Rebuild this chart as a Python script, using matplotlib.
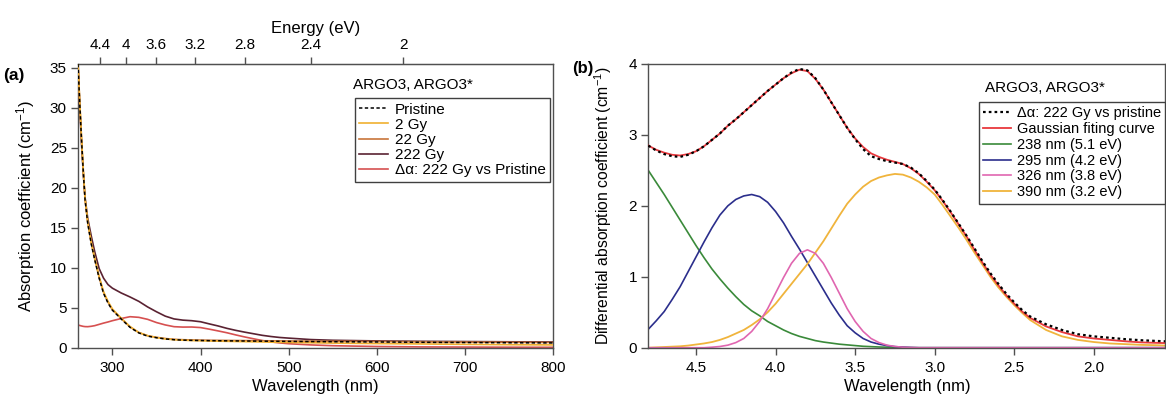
import matplotlib
matplotlib.use("Agg")
import matplotlib.pyplot as plt
from matplotlib.ticker import FormatStrFormatter

plt.rcParams['font.family'] = ['Liberation Sans', 'DejaVu Sans']
plt.rcParams['mathtext.fontset'] = 'custom'
plt.rcParams['mathtext.rm'] = 'Liberation Sans'
plt.rcParams['mathtext.default'] = 'regular'

# ---- panel (a): absorption vs wavelength ----
wl = [261, 263, 265, 267, 269, 272, 276, 280, 285, 290, 295, 300, 310, 320, 330,
      340, 350, 360, 370, 380, 390, 400, 410, 420, 430, 440, 450, 460, 470, 480,
      490, 500, 525, 550, 600, 650, 700, 750, 800]
pristine = [35.5, 30.5, 26.0, 22.0, 18.5, 15.6, 13.0, 11.0, 8.7, 6.8, 5.6, 4.7, 3.6,
            2.55, 1.85, 1.45, 1.25, 1.1, 1.0, 0.95, 0.92, 0.9, 0.88, 0.87, 0.86, 0.85,
            0.84, 0.83, 0.82, 0.81, 0.8, 0.79, 0.77, 0.75, 0.72, 0.68, 0.65, 0.62, 0.6]
gy2 = [35.5, 30.7, 26.2, 22.2, 18.7, 15.8, 13.2, 11.2, 8.9, 7.0, 5.8, 4.85, 3.7,
       2.65, 1.9, 1.5, 1.27, 1.1, 1.0, 0.94, 0.9, 0.87, 0.84, 0.82, 0.8, 0.78,
       0.76, 0.74, 0.72, 0.7, 0.68, 0.66, 0.62, 0.58, 0.52, 0.47, 0.42, 0.38, 0.35]
gy22 = [35.5, 30.6, 26.1, 22.1, 18.6, 15.7, 13.1, 11.1, 8.8, 6.9, 5.7, 4.75, 3.65,
        2.6, 1.9, 1.5, 1.3, 1.15, 1.05, 1.0, 0.97, 0.95, 0.93, 0.92, 0.91, 0.9,
        0.89, 0.88, 0.87, 0.86, 0.85, 0.84, 0.82, 0.8, 0.77, 0.74, 0.71, 0.68, 0.65]
gy222 = [35.5, 30.0, 25.5, 21.8, 18.8, 16.2, 14.0, 12.0, 9.9, 8.7, 7.9, 7.45, 6.85,
         6.35, 5.8, 5.1, 4.5, 3.95, 3.6, 3.45, 3.38, 3.25, 2.98, 2.72, 2.42, 2.17,
         1.95, 1.75, 1.55, 1.4, 1.28, 1.2, 1.02, 0.93, 0.85, 0.8, 0.77, 0.74, 0.72]
delta_a = [2.84, 2.78, 2.72, 2.67, 2.64, 2.63, 2.68, 2.76, 2.92, 3.08, 3.22, 3.38,
           3.65, 3.88, 3.8, 3.55, 3.15, 2.85, 2.63, 2.58, 2.59, 2.52, 2.32, 2.1,
           1.87, 1.6, 1.35, 1.12, 0.9, 0.72, 0.6, 0.5, 0.35, 0.25, 0.15, 0.1, 0.08,
           0.06, 0.05]

energy_ticks = [4.4, 4.0, 3.6, 3.2, 2.8, 2.4, 2.0]
HC = 1260  # eV*nm, as the top axis of the original is drawn

# ---- panel (b): differential absorption vs energy ----
ev = [4.8, 4.75, 4.7, 4.65, 4.6, 4.55, 4.5, 4.45, 4.4, 4.35,
      4.3, 4.25, 4.2, 4.15, 4.1, 4.05, 4.0, 3.95, 3.9, 3.85,
      3.8, 3.75, 3.7, 3.65, 3.6, 3.55, 3.5, 3.45, 3.4, 3.35,
      3.3, 3.25, 3.2, 3.15, 3.1, 3.05, 3.0, 2.95, 2.9, 2.85,
      2.8, 2.75, 2.7, 2.65, 2.6, 2.55, 2.5, 2.45, 2.4,
      2.3, 2.2, 2.1, 2.0, 1.9, 1.8, 1.7, 1.6, 1.55]
fit_b = [2.85, 2.79, 2.75, 2.72, 2.71, 2.73, 2.77, 2.84, 2.93, 3.02,
         3.13, 3.22, 3.32, 3.42, 3.52, 3.62, 3.71, 3.80, 3.87, 3.92,
         3.90, 3.79, 3.64, 3.46, 3.28, 3.10, 2.95, 2.83, 2.74, 2.69,
         2.65, 2.62, 2.59, 2.53, 2.45, 2.34, 2.22, 2.07, 1.91, 1.74,
         1.57, 1.38, 1.20, 1.03, 0.88, 0.74, 0.62, 0.51, 0.42,
         0.30, 0.22, 0.16, 0.13, 0.11, 0.09, 0.075, 0.068, 0.065]
delta_b = [2.85, 2.78, 2.73, 2.70, 2.69, 2.72, 2.77, 2.84, 2.93, 3.02,
           3.13, 3.22, 3.32, 3.42, 3.52, 3.62, 3.71, 3.80, 3.88, 3.93,
           3.91, 3.80, 3.64, 3.46, 3.28, 3.10, 2.94, 2.80, 2.70, 2.66,
           2.63, 2.61, 2.59, 2.54, 2.46, 2.35, 2.23, 2.08, 1.92, 1.75,
           1.58, 1.40, 1.22, 1.05, 0.90, 0.76, 0.64, 0.53, 0.44,
           0.33, 0.25, 0.19, 0.16, 0.14, 0.12, 0.105, 0.095, 0.09]
g238 = [2.50, 2.33, 2.16, 1.98, 1.80, 1.62, 1.44, 1.27, 1.11, 0.97,
        0.84, 0.72, 0.61, 0.52, 0.45, 0.37, 0.31, 0.25, 0.20, 0.16,
        0.13, 0.10, 0.08, 0.065, 0.05, 0.04, 0.03, 0.02, 0.015, 0.01,
        0.007, 0.005, 0.003, 0.001, 0, 0, 0, 0, 0, 0,
        0, 0, 0, 0, 0, 0, 0, 0, 0,
        0, 0, 0, 0, 0, 0, 0, 0, 0]
g295 = [0.26, 0.38, 0.51, 0.68, 0.86, 1.07, 1.28, 1.49, 1.69, 1.87,
        2.00, 2.09, 2.14, 2.16, 2.13, 2.05, 1.92, 1.76, 1.57, 1.39,
        1.20, 1.01, 0.82, 0.63, 0.46, 0.31, 0.21, 0.13, 0.08, 0.05,
        0.03, 0.015, 0.008, 0.003, 0, 0, 0, 0, 0, 0,
        0, 0, 0, 0, 0, 0, 0, 0, 0,
        0, 0, 0, 0, 0, 0, 0, 0, 0]
g326 = [0, 0, 0, 0, 0, 0, 0, 0, 0.007, 0.017,
        0.036, 0.072, 0.13, 0.23, 0.37, 0.55, 0.77, 0.99, 1.19, 1.33,
        1.38, 1.33, 1.19, 0.99, 0.77, 0.55, 0.37, 0.23, 0.13, 0.072,
        0.036, 0.017, 0.007, 0.003, 0, 0, 0, 0, 0, 0,
        0, 0, 0, 0, 0, 0, 0, 0, 0,
        0, 0, 0, 0, 0, 0, 0, 0, 0]
g390 = [0.0, 0.005, 0.01, 0.015, 0.02, 0.03, 0.045, 0.06, 0.08, 0.11,
        0.15, 0.20, 0.25, 0.32, 0.40, 0.50, 0.62, 0.76, 0.90, 1.04,
        1.18, 1.34, 1.50, 1.68, 1.86, 2.03, 2.16, 2.27, 2.35, 2.40,
        2.43, 2.45, 2.44, 2.40, 2.34, 2.26, 2.16, 2.01, 1.85, 1.69,
        1.52, 1.34, 1.17, 1.00, 0.85, 0.72, 0.60, 0.49, 0.39,
        0.25, 0.16, 0.11, 0.08, 0.06, 0.05, 0.04, 0.035, 0.03]

spine_c = '#505050'
fig = plt.figure(figsize=(11.66, 4.03), dpi=100)
ax1 = fig.add_axes([0.0669, 0.1372, 0.4074, 0.704])
ax2 = fig.add_axes([0.556, 0.1372, 0.4435, 0.704])

# panel (a)
ax1.plot(wl, delta_a, color='#D65050', lw=1.2, label='Δα: 222 Gy vs Pristine', zorder=2)
ax1.plot(wl, gy222, color='#5A2232', lw=1.2, label='222 Gy', zorder=3)
ax1.plot(wl, gy22, color='#C8743A', lw=1.2, label='22 Gy', zorder=3)
ax1.plot(wl, gy2, color='#F0B030', lw=1.2, label='2 Gy', zorder=3)
ax1.plot(wl, pristine, color='black', lw=1.1, ls=(0, (2.2, 1.6)), label='Pristine', zorder=4)
ax1.set_xlim(261, 800)
ax1.set_ylim(0, 35.5)
ax1.set_xticks([300, 400, 500, 600, 700, 800])
ax1.set_yticks([0, 5, 10, 15, 20, 25, 30, 35])
ax1.set_xlabel('Wavelength (nm)', fontsize=12, labelpad=3)
ax1.set_ylabel('Absorption coefficient (cm$^{-1}$)', fontsize=12)
ax1.yaxis.set_label_coords(-0.086, 0.5)

top = ax1.secondary_xaxis('top', functions=(lambda x: HC / x, lambda e: HC / e))
top.set_xticks(energy_ticks)
top.xaxis.set_major_formatter(FormatStrFormatter('%g'))
top.set_xlabel('Energy (eV)', fontsize=12, labelpad=4)
top.tick_params(direction='out', length=5, width=1, color=spine_c, labelsize=11, pad=3.5)
top.spines['top'].set_color(spine_c)

h, l = ax1.get_legend_handles_labels()
order = [4, 3, 2, 1, 0]
leg1 = ax1.legend([h[i] for i in order], [l[i] for i in order],
                  loc='upper right', bbox_to_anchor=(0.4717, 0.7568),
                  bbox_transform=fig.transFigure, fontsize=11, frameon=True,
                  fancybox=False, edgecolor='#404040', framealpha=1,
                  handlelength=1.9, handletextpad=0.4, labelspacing=0.08,
                  borderpad=0.3, borderaxespad=0)
leg1.get_frame().set_linewidth(1.0)
fig.text(0.3025, 0.789, 'ARGO3, ARGO3*', fontsize=11, ha='left', va='center')

# panel (b)
ax2.plot(ev, fit_b, color='#E8383D', lw=1.3, label='Gaussian fiting curve', zorder=3)
ax2.plot(ev, delta_b, color='black', lw=1.6, ls=(0, (1.2, 1.4)),
         label='Δα: 222 Gy vs pristine', zorder=4)
ax2.plot(ev, g238, color='#3A8A3A', lw=1.2, label='238 nm (5.1 eV)', zorder=2)
ax2.plot(ev, g295, color='#2B2E8C', lw=1.2, label='295 nm (4.2 eV)', zorder=2)
ax2.plot(ev, g390, color='#F0B43C', lw=1.3, label='390 nm (3.2 eV)', zorder=2)
ax2.plot(ev, g326, color='#E066B0', lw=1.2, label='326 nm (3.8 eV)', zorder=2)
ax2.set_xlim(4.8, 1.55)
ax2.set_ylim(0, 4)
ax2.set_xticks([4.5, 4.0, 3.5, 3.0, 2.5, 2.0])
ax2.xaxis.set_major_formatter(FormatStrFormatter('%.1f'))
ax2.set_yticks([0, 1, 2, 3, 4])
ax2.set_xlabel('Wavelength (nm)', fontsize=12, labelpad=3)
ax2.set_ylabel('Differential absorption coefficient (cm$^{-1}$)', fontsize=11.3)
ax2.yaxis.set_label_coords(-0.067, 0.5)

h, l = ax2.get_legend_handles_labels()
order = [1, 0, 2, 3, 5, 4]
leg2 = ax2.legend([h[i] for i in order], [l[i] for i in order],
                  loc='upper right', bbox_to_anchor=(0.9995, 0.7468),
                  bbox_transform=fig.transFigure, fontsize=10.5, frameon=True,
                  fancybox=False, edgecolor='#404040', framealpha=1,
                  handlelength=1.9, handletextpad=0.4, labelspacing=0.12,
                  borderpad=0.3, borderaxespad=0)
leg2.get_frame().set_linewidth(1.0)
fig.text(0.8445, 0.782, 'ARGO3, ARGO3*', fontsize=11, ha='left', va='center')

for ax in (ax1, ax2):
    for s in ax.spines.values():
        s.set_color(spine_c)
        s.set_linewidth(1.0)
    ax.tick_params(direction='out', length=5, width=1, color=spine_c,
                   labelsize=11, top=False, right=False)
    ax.tick_params(axis='x', pad=4.5)
    ax.tick_params(axis='y', pad=3)

fig.text(0.003, 0.812, '(a)', fontsize=12.5, fontweight='bold', va='center')
fig.text(0.4905, 0.831, '(b)', fontsize=12, fontweight='bold', va='center')

fig.savefig('out.png', dpi=100)
